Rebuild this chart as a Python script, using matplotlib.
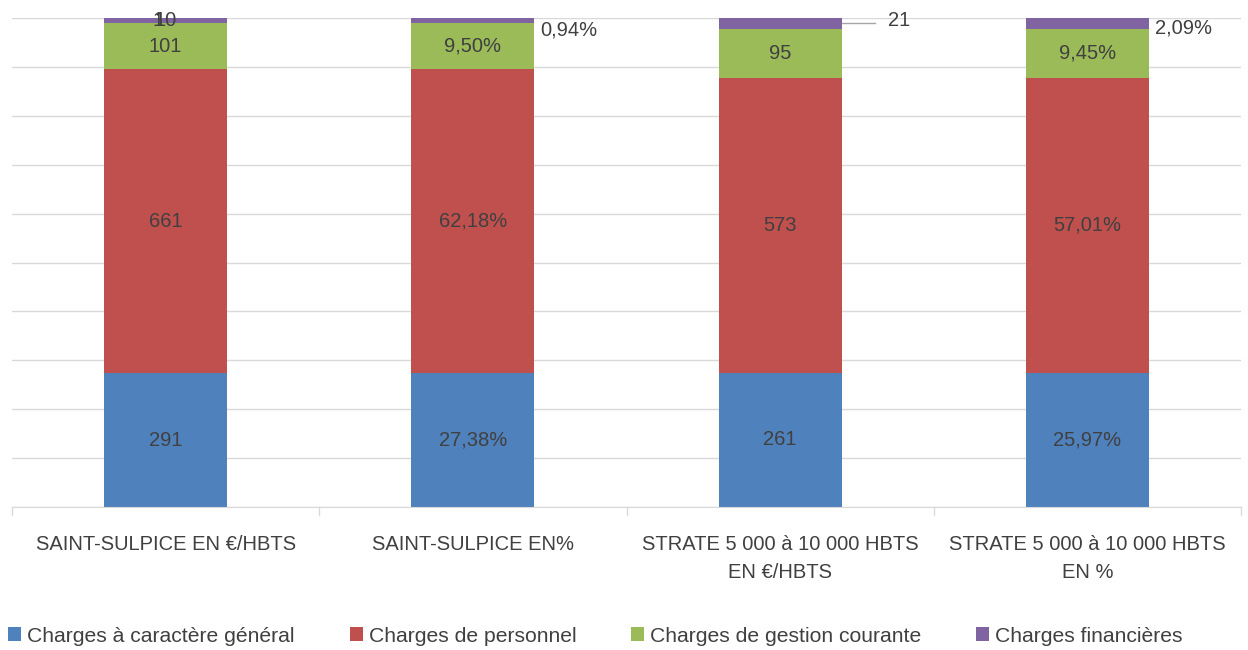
import numpy as np
import matplotlib.pyplot as plt

plt.rcParams['font.family'] = ['Liberation Sans', 'DejaVu Sans']

categories = ['SAINT-SULPICE EN €/HBTS', 'SAINT-SULPICE EN%',
              'STRATE 5 000 à 10 000 HBTS\nEN €/HBTS', 'STRATE 5 000 à 10 000 HBTS\nEN %']
series_names = ['Charges à caractère général', 'Charges de personnel',
                'Charges de gestion courante', 'Charges financières']
general = [291, 27.38, 261, 25.97]
personnel = [661, 62.18, 573, 57.01]
gestion = [101, 9.50, 95, 9.45]
financieres = [10, 0.94, 21, 2.09]
# small extra row on the first column (labelled "1")
extra = [1, 0, 0, 0]

label_text = [
    ['291', '27,38%', '261', '25,97%'],
    ['661', '62,18%', '573', '57,01%'],
    ['101', '9,50%', '95', '9,45%'],
    ['10', '0,94%', '21', '2,09%'],
]
colors = ['#4f81bd', '#c0504d', '#9bbb59', '#8064a2']
text_color = '#404040'
fs = 14.5

data = np.array([general, personnel, gestion, financieres, extra], dtype=float)
totals = data.sum(axis=0)
shares = data / totals * 100

fig = plt.figure(figsize=(12.48, 6.5), dpi=100)
ax = fig.add_axes([12 / 1248, 1 - 507 / 650, (1241 - 12) / 1248, (507 - 18) / 650])

x = np.arange(len(categories))
bottom = np.zeros(len(categories))
for i, name in enumerate(series_names):
    ax.bar(x, shares[i], 0.4, bottom=bottom, color=colors[i], label=name, zorder=2)
    bottom += shares[i]
ax.bar(x, shares[4], 0.4, bottom=bottom, color='#4bacc6', zorder=2)

# value labels
bottom = np.zeros(len(categories))
for i in range(4):
    for j in range(len(categories)):
        mid = bottom[j] + shares[i][j] / 2
        if i == 3 and j > 0:
            continue
        ax.text(x[j], mid, label_text[i][j], ha='center', va='center',
                fontsize=fs, color=text_color, zorder=3)
    bottom += shares[i]
ax.text(x[0] - 0.025, bottom[0] + shares[4][0] / 2 - 0.4, '1', ha='center', va='center',
        fontsize=fs, color=text_color, zorder=3)

# labels outside the thin top segments
ax.text(x[1] + 0.22, 97.6, label_text[3][1], ha='left', va='center',
        fontsize=fs, color=text_color)
ax.plot([x[2] + 0.2, x[2] + 0.31], [98.9, 98.9], color='#a6a6a6', lw=1)
ax.text(x[2] + 0.35, 99.5, label_text[3][2], ha='left', va='center',
        fontsize=fs, color=text_color)
ax.text(x[3] + 0.22, 98.0, label_text[3][3], ha='left', va='center',
        fontsize=fs, color=text_color)

ax.set_ylim(0, 100)
ax.set_xlim(-0.5, len(categories) - 0.5)
ax.set_yticks(np.arange(0, 101, 10))
ax.set_yticklabels([])
ax.tick_params(axis='y', length=0)
ax.grid(axis='y', color='#d9d9d9', lw=1, zorder=0)
ax.set_xticks(x)
ax.set_xticklabels(categories, fontsize=fs, color=text_color, linespacing=1.6)
ax.tick_params(axis='x', length=0, pad=20)
for b in np.arange(-0.5, len(categories), 1):
    ax.plot([b, b], [0, -1.6], color='#d9d9d9', lw=1, clip_on=False)
for side in ['top', 'right', 'left']:
    ax.spines[side].set_visible(False)
ax.spines['bottom'].set_color('#d9d9d9')

fig.legend(loc='center left', bbox_to_anchor=(0.0, 1 - 636 / 650), ncol=4, frameon=False,
           fontsize=15.2, handlelength=0.6, handleheight=0.6, handletextpad=0.3,
           columnspacing=2.6, labelcolor=text_color, borderaxespad=0.0)

fig.savefig('out.png', dpi=100)
